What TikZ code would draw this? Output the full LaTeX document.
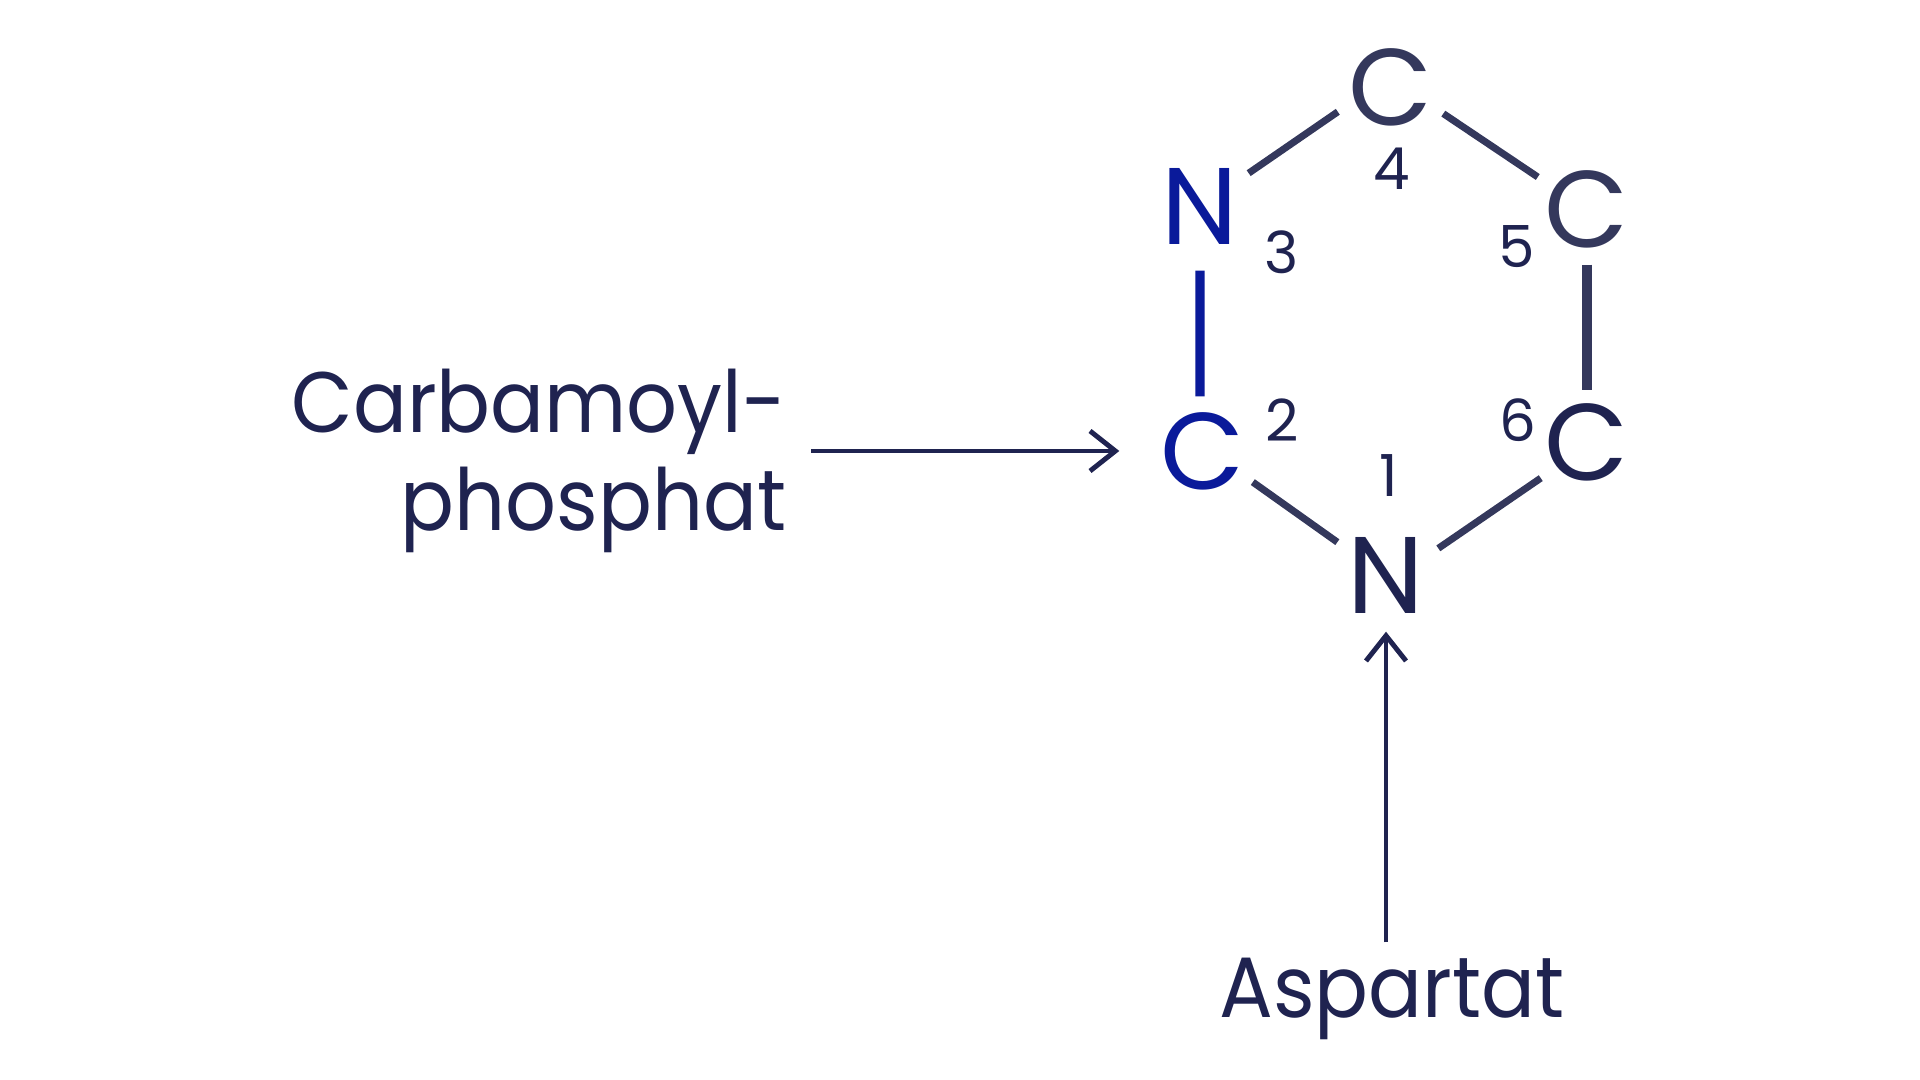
\documentclass[tikz,border=0pt]{standalone}
\usepackage{fontspec}
\setmainfont{Poppins}
\newfontfamily\eductfont[FakeStretch=0.93]{Poppins}
\usetikzlibrary{arrows.meta}
\definecolor{navy}{HTML}{1F2350}
\definecolor{slate}{HTML}{34385C}
\definecolor{royal}{HTML}{0A1A9A}
\tikzset{
	atom/.style={circle, inner sep=0pt, minimum size=1.16cm, text=navy, font=\fontsize{31}{31}\selectfont},
	num/.style={inner sep=0pt, text=navy, font=\fontsize{16.5}{16.5}\selectfont},
	educt/.style={inner sep=0pt, text=navy, font=\eductfont\fontsize{24.4}{27.7}\selectfont},
	bond/.style={draw=slate, line width=2pt},
	feed/.style={draw=navy, line width=1.4pt, -{Straight Barb[length=7.2pt,width=11.4pt]}}
}
\begin{document}
\begin{tikzpicture}
	\useasboundingbox (0,0) rectangle (19.2,10.8);

	\draw node[atom] (1) at (13.86,5.05) {N};
	\draw node[atom, text=royal] (2) at (12.03,6.29) {C};
	\draw node[atom, text=royal] (3) at (12.00,8.74) {N};
	\draw node[atom, text=slate] (4) at (13.91,9.93) {C};
	\draw node[atom, text=slate] (5) at (15.87,8.71) {C};
	\draw node[atom] (6) at (15.87,6.38) {C};

	\draw node[num] (n1) at (13.89,6.04) {1};
	\draw node[num] (n2) at (12.82,6.60) {2};
	\draw node[num] (n3) at (12.82,8.28) {3};
	\draw node[num] (n4) at (13.92,9.11) {4};
	\draw node[num] (n5) at (15.17,8.33) {5};
	\draw node[num] (n6) at (15.18,6.60) {6};

	\draw node[educt, align=right, anchor=east] (carbamoyl) at (7.87,6.19) {Carbamoyl-\\phosphat};
	\draw node[educt] (aspartat) at (13.92,0.81) {Aspartat};

	\draw[bond] (3.34) -- (4.205);
	\draw[bond] (4.-27) -- (5.147);
	\draw[bond, line width=2.6pt, shorten <=-0.03cm, shorten >=-0.07cm] (5.-90) -- (6.90);
	\draw[bond, draw=royal, line width=2.6pt, shorten <=0.06cm, shorten >=-0.04cm] (3.-90) -- (2.93);
	\draw[bond] (2.-32) -- (1.146);
	\draw[bond] (1.27) -- (6.218);

	\draw[feed, shorten <=0.24cm, shorten >=0.25cm] (carbamoyl.east |- 2) -- (2);
	\draw[feed, shorten <=0.15cm, shorten >=-0.02cm] (aspartat.north -| 1) -- (1);
\end{tikzpicture}
\end{document}
